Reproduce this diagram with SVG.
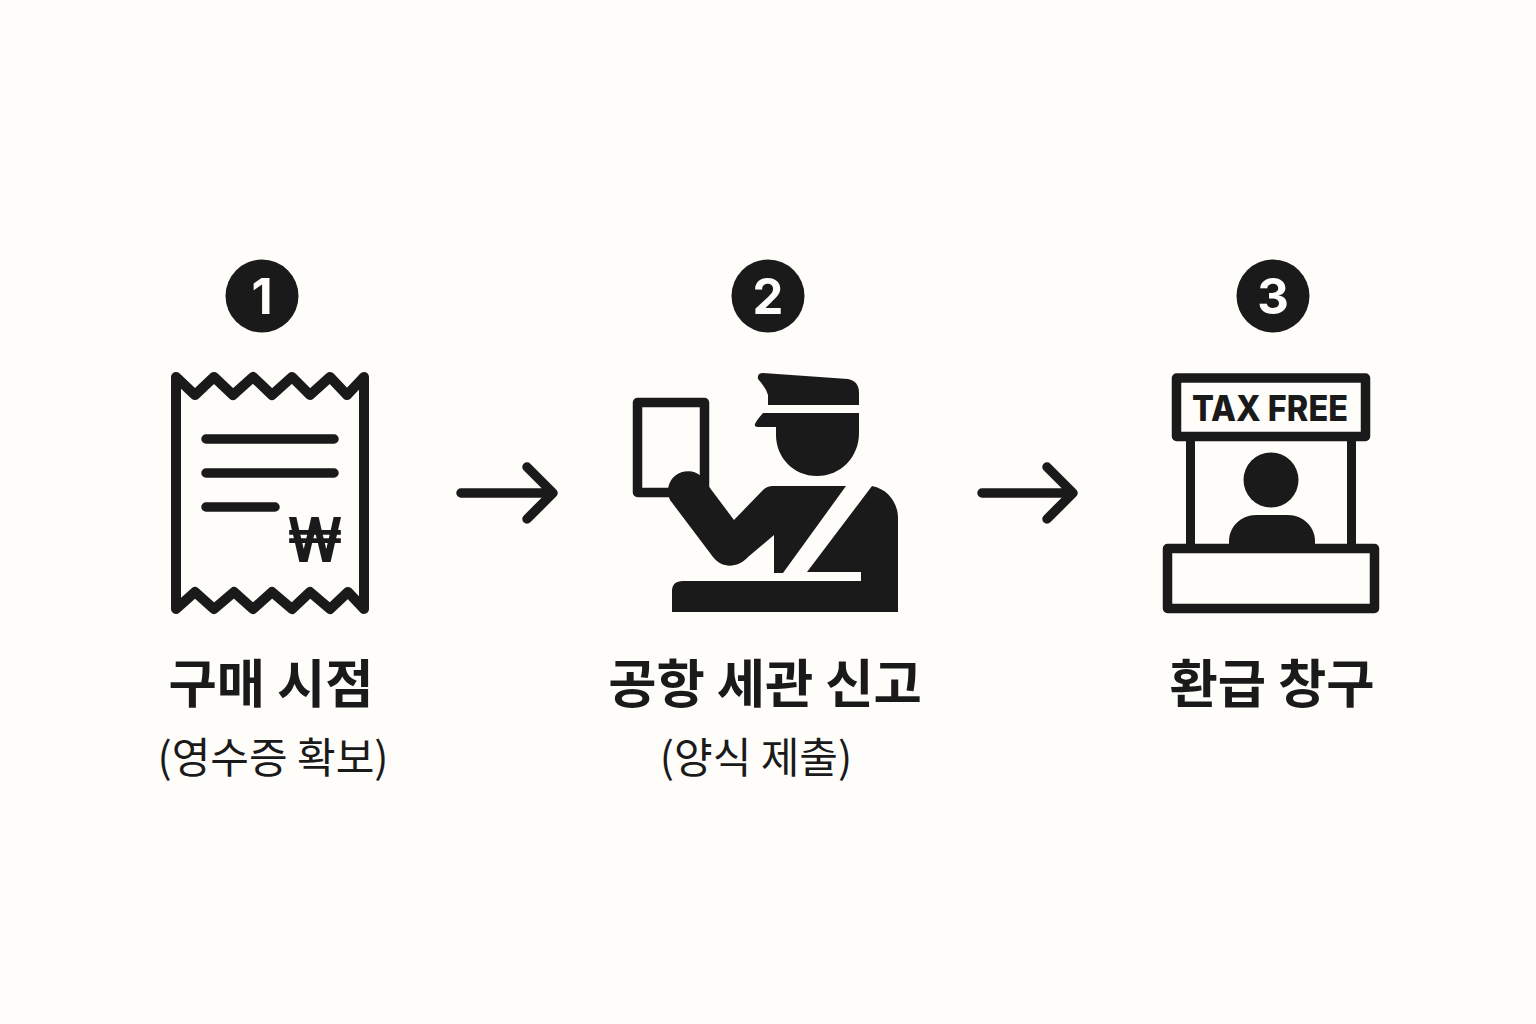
<svg xmlns="http://www.w3.org/2000/svg" width="1536" height="1024" viewBox="0 0 1536 1024">
<style>
.ink{fill:#1a1a1a}
.ln{fill:none;stroke:#1a1a1a;stroke-width:9.500;stroke-linecap:round;stroke-linejoin:round}
.sq{fill:none;stroke:#1a1a1a;stroke-width:9.500;stroke-linejoin:round}
.num{font-family:Inter,"Noto Sans",sans-serif;font-weight:700;font-size:49px;fill:#fefdfa;text-anchor:middle}
.h{font-family:"Noto Sans CJK KR",sans-serif;font-weight:700;font-size:52.500px;fill:#1a1a1a;text-anchor:middle}
.s{font-family:"Noto Sans CJK KR",sans-serif;font-weight:400;font-size:42px;fill:#1a1a1a;text-anchor:middle}
</style>
<rect width="1536" height="1024" fill="#fefdfa"/>
<g id="connectors">
<path class="ln" d="M461 493H552M527 467L553 493L527 519"/>
<path class="ln" d="M982 493H1073M1047 467L1073 493L1047 519"/>
</g>
<g id="node-1">
<circle class="ink" cx="262" cy="296" r="36.500"/>
<text class="num" x="262" y="314">1</text>
<path class="ln" style="stroke-width:10" d="M176 377L195 395L214 377L233 395L253 377L272 395L292 377L310 395L330 377L347 395L364 377V609L348 592L330 609L310 592L292 609L272 592L253 609L234 592L214 609L195 592L176 609Z"/>
<path class="ln" d="M206 439H334M206 473H334M206 507H275"/>
<text x="315" y="562" font-family="Inter,sans-serif" font-weight="700" font-size="62" text-anchor="middle" class="ink" textLength="56" lengthAdjust="spacingAndGlyphs">₩</text>
<text class="h" x="271" y="703">구매 시점</text>
<text class="s" x="273" y="773">(영수증 확보)</text>
</g>
<g id="node-2">
<circle class="ink" cx="768" cy="296" r="36.500"/>
<text class="num" x="768" y="314">2</text>
<rect class="sq" x="637.500" y="402.500" width="67" height="90"/>
<path class="ink" d="M758 379Q757 373 763 373L848 379Q859 381 859 393V405H768V395Q766 388 758 379Z"/>
<path class="ink" d="M755 424Q756 421 763 413H859V433C859 457 841 476 817 476C793 476 776 457 776 435V427H758Q754 427 755 424Z"/>
<path class="ink" d="M670 500A20 20 0 0 1 701 476L734 520L763 490Q767 486 773 486H846L783 573H774V535L748 557C738 568 722 569 713 557Z"/>
<path class="ink" d="M872 486C888 489 898 503 898 518V612H672V591Q672 581 683 581H861V572H807Z"/>
<text class="h" x="765" y="703">공항 세관 신고</text>
<text class="s" x="756" y="773">(양식 제출)</text>
</g>
<g id="node-3">
<circle class="ink" cx="1273" cy="296" r="36.500"/>
<text class="num" x="1273" y="314">3</text>
<rect class="sq" x="1176.500" y="378" width="189" height="58.500"/>
<text x="1270" y="421" font-family="Inter,sans-serif" font-weight="800" font-size="35" text-anchor="middle" class="ink" textLength="156" lengthAdjust="spacingAndGlyphs">TAX FREE</text>
<path class="ink" d="M1186 441h9v105h-9zM1347 441h9v105h-9z"/>
<circle class="ink" cx="1271" cy="480" r="27.500"/>
<path class="ink" d="M1229 548V541C1229 527 1241 515 1256 515H1288C1303 515 1315 527 1315 541V548Z"/>
<rect class="sq" x="1167.500" y="548.500" width="207" height="60"/>
<text class="h" x="1272" y="703">환급 창구</text>
</g>
</svg>
